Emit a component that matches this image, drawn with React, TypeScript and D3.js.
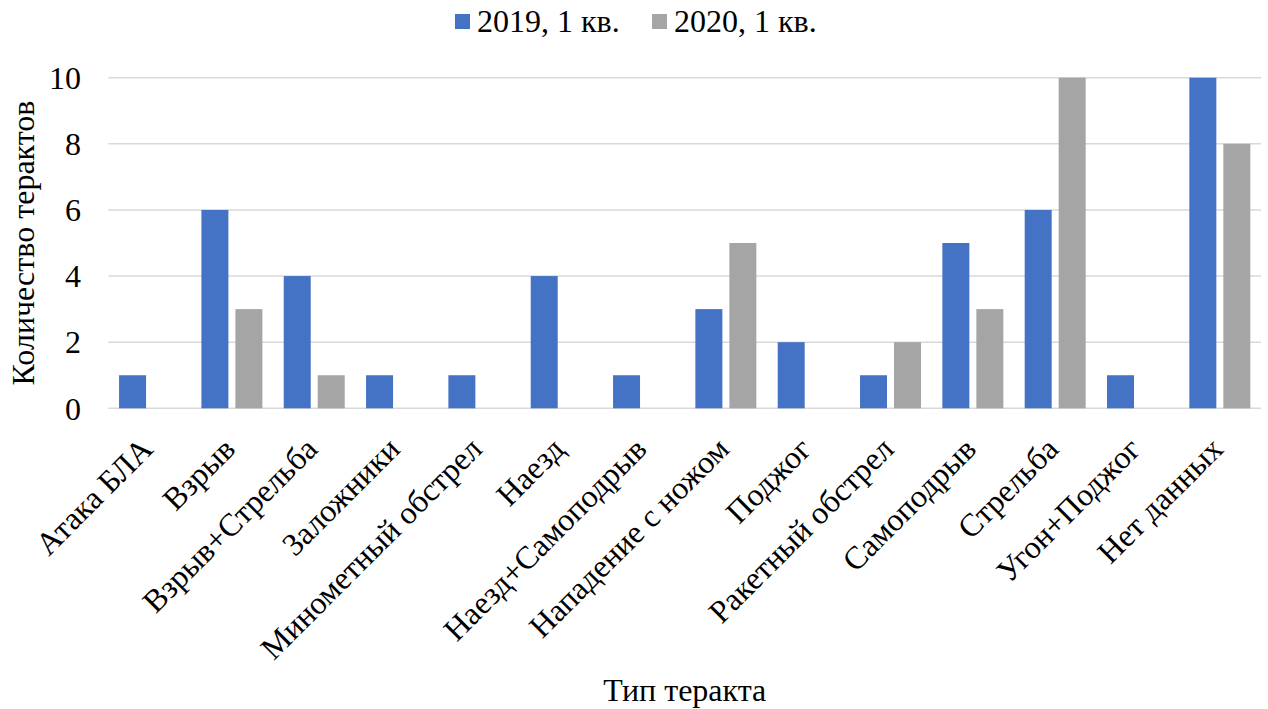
import React from "react";
import * as d3 from "d3";

const categories = [
  "Атака БЛА",
  "Взрыв",
  "Взрыв+Стрельба",
  "Заложники",
  "Минометный обстрел",
  "Наезд",
  "Наезд+Самоподрыв",
  "Нападение с ножом",
  "Поджог",
  "Ракетный обстрел",
  "Самоподрыв",
  "Стрельба",
  "Угон+Поджог",
  "Нет данных",
];

const series = ["2019, 1 кв.", "2020, 1 кв."];
const values2019 = [1, 6, 4, 1, 1, 4, 1, 3, 2, 1, 5, 6, 1, 10];
const values2020 = [0, 3, 1, 0, 0, 0, 0, 5, 0, 2, 3, 10, 0, 8];
const yTicks = [0, 2, 4, 6, 8, 10];

const colors = ["#4472C4", "#A5A5A5"];

const W = 1268;
const H = 709;
const font = '"Liberation Serif", "Times New Roman", serif';
const fs = 32;

export default function App() {
  const left = 108.4;
  const right = 1261;
  const top = 77.7;
  const bottom = 408.3;

  const x0 = d3.scaleBand().domain(categories).range([left, right]);
  const x1 = d3
    .scaleBand()
    .domain(series)
    .range([0, x0.bandwidth()])
    .paddingInner(0.206)
    .paddingOuter(0.314);
  const y = d3.scaleLinear().domain([0, 10]).range([bottom, top]);

  const data = [values2019, values2020];

  return (
    <svg
      width={W}
      height={H}
      style={{ position: "absolute", left: 0, top: 0, background: "#fff" }}
      fontFamily={font}
    >
      {/* gridlines */}
      {yTicks.map((t) => (
        <line
          key={t}
          x1={left}
          x2={right}
          y1={y(t)}
          y2={y(t)}
          stroke="#D9D9D9"
          strokeWidth={1.5}
        />
      ))}

      {/* y tick labels */}
      {yTicks.map((t) => (
        <text
          key={"l" + t}
          x={81}
          y={y(t)}
          dy="0.35em"
          textAnchor="end"
          fontSize={fs}
        >
          {t}
        </text>
      ))}

      {/* bars */}
      {series.map((s, si) =>
        categories.map((c, ci) => {
          const v = data[si][ci];
          if (!v) return null;
          return (
            <rect
              key={s + c}
              x={(x0(c) ?? 0) + (x1(s) ?? 0)}
              y={y(v)}
              width={x1.bandwidth()}
              height={y(0) - y(v)}
              fill={colors[si]}
            />
          );
        }),
      )}

      {/* category labels */}
      {categories.map((c) => {
        const cx = (x0(c) ?? 0) + x0.bandwidth() / 2 + 5;
        return (
          <text
            key={"c" + c}
            transform={`translate(${cx},451) rotate(-45)`}
            textAnchor="end"
            fontSize={fs}
          >
            {c}
          </text>
        );
      })}

      {/* axis titles */}
      <text
        x={(left + right) / 2}
        y={701}
        textAnchor="middle"
        fontSize={fs}
      >
        Тип теракта
      </text>
      <text
        transform={`translate(34,${(top + bottom) / 2}) rotate(-90)`}
        textAnchor="middle"
        fontSize={fs}
      >
        Количество терактов
      </text>

      {/* legend */}
      {series.map((s, i) => {
        const lx = [455, 652][i];
        return (
          <g key={"lg" + s}>
            <rect x={lx} y={14} width={15} height={15} fill={colors[i]} />
            <text x={lx + 22} y={32} fontSize={fs}>
              {s}
            </text>
          </g>
        );
      })}
    </svg>
  );
}
